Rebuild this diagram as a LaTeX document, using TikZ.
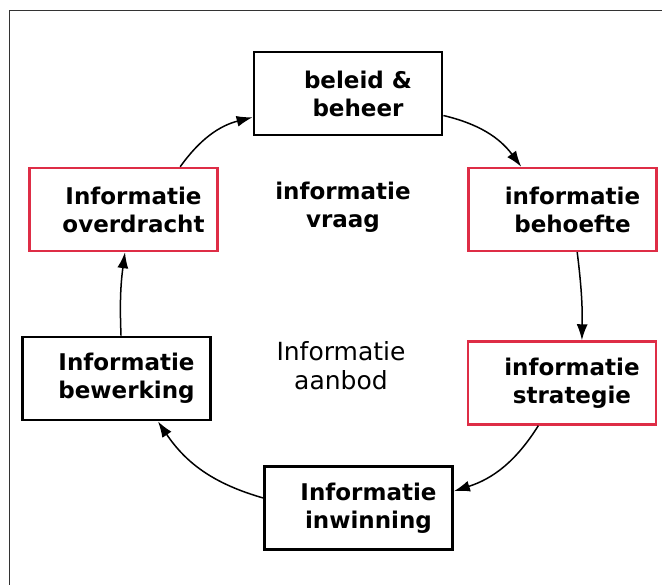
\documentclass[tikz,border=0pt]{standalone}
\usepackage{fontspec}
\setmainfont{DejaVu Sans}
\usepackage{xcolor}
\usepackage{tikz}
\usetikzlibrary{arrows.meta,positioning}
\definecolor{boxred}{RGB}{222,45,70}
\newcommand{\twolines}[2]{\hspace*{20pt}#1\\\hspace*{20pt}#2}

\begin{document}
\begin{tikzpicture}[x=1pt, y=1pt,
  infobox/.style={draw, line width=2.8pt, fill=white, minimum width=188pt,
                  minimum height=83pt, align=center, inner sep=0pt,
                  font=\bfseries\fontsize{23}{28}\selectfont},
  redbox/.style={infobox, draw=boxred, line width=2.4pt},
  midtext/.style={align=center, font=\fontsize{23}{28}\selectfont},
  arr/.style={-{Latex[length=16pt,width=11pt]}, line width=1.5pt, bend left=#1},
  arr/.default=20
]
\useasboundingbox (0,0) rectangle (662,585);
\draw[line width=1pt, black!80] (9,-5) -- (9,574) -- (670,574);
\node[infobox] (beleid) at (348,491.5) {\twolines{beleid \&}{beheer}};
\node[redbox] (overdracht) at (123.5,375.5) {\twolines{Informatie}{overdracht}};
\node[redbox] (behoefte) at (562.5,375.5) {\twolines{informatie}{behoefte}};
\node[redbox] (strategie) at (562,202) {\twolines{informatie}{strategie}};
\node[infobox] (inwinning) at (358.5,77) {\twolines{Informatie}{inwinning}};
\node[infobox] (bewerking) at (116.5,206.5) {\twolines{Informatie}{bewerking}};
\node[midtext, font=\bfseries\fontsize{23}{28}\selectfont] (vraag) at (343,378) {informatie\\vraag};
\node[midtext, font=\fontsize{25}{29}\selectfont] (aanbod) at (341,219) {Informatie\\aanbod};
\draw[arr] (overdracht.37) to (beleid.194);
\draw[arr] (beleid.-13) to (behoefte.134);
\draw[arr=4] (behoefte.-71) to (strategie.65);
\draw[arr] (strategie.241) to (inwinning.10);
\draw[arr] (inwinning.174) to (bewerking.-46);
\draw[arr=5] (bewerking.84) to (overdracht.272);
\end{tikzpicture}
\end{document}
